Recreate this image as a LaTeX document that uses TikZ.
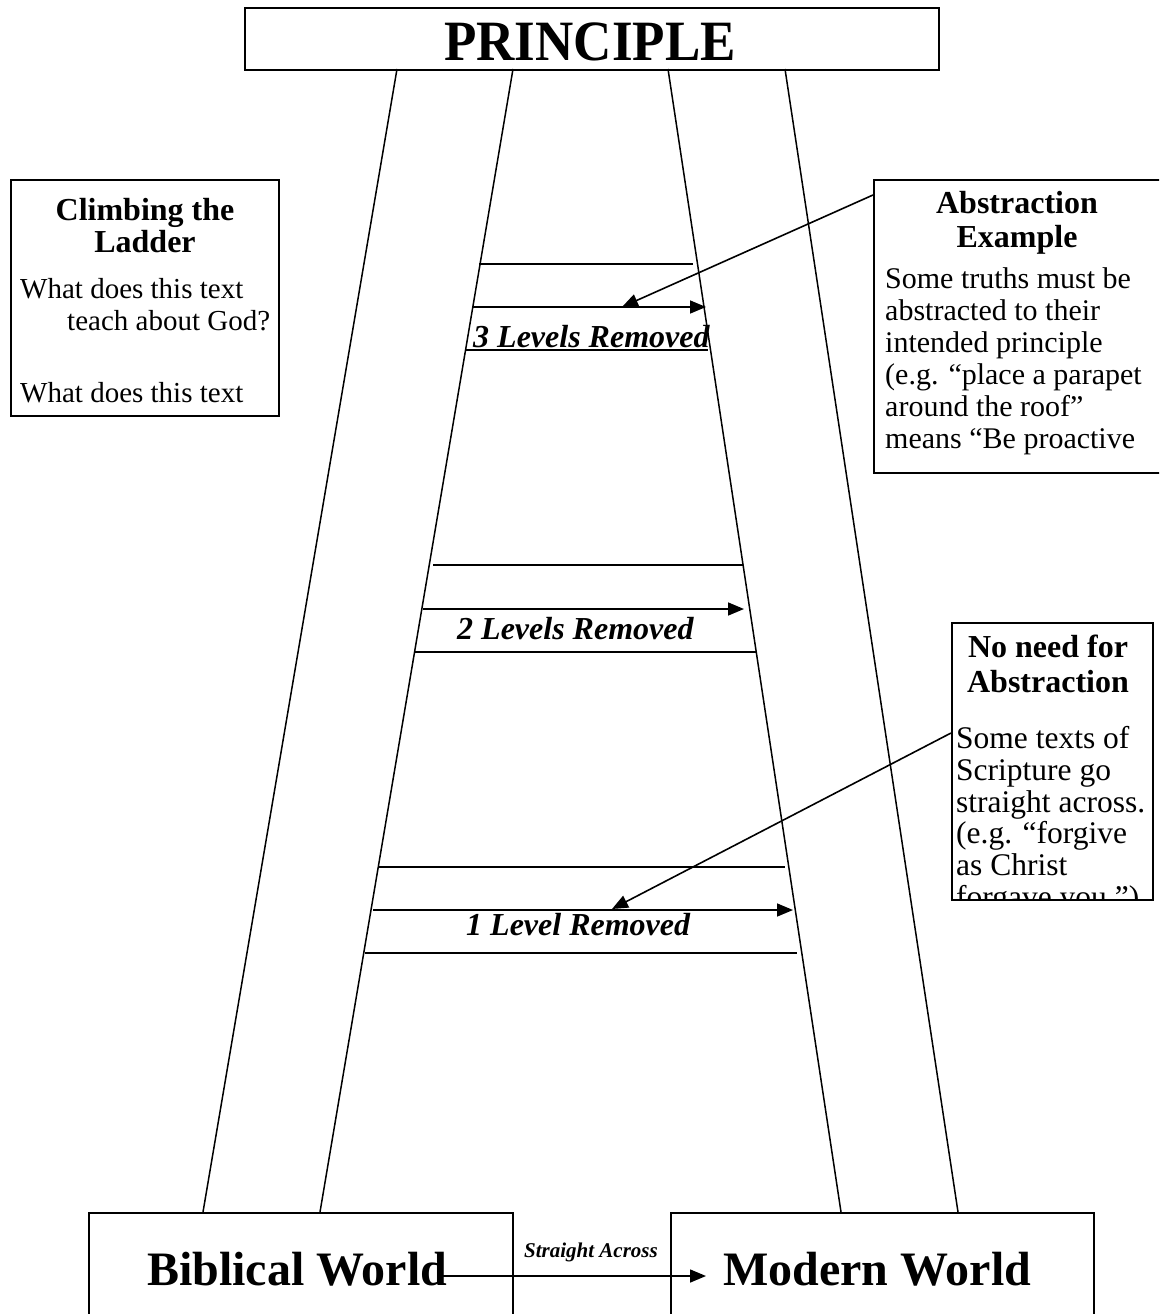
\documentclass[tikz,border=0pt]{standalone}
\usepackage{fontspec}
\setmainfont{Liberation Serif}
\usetikzlibrary{arrows.meta}
\begin{document}
\begin{tikzpicture}[x=1pt,y=-1pt,
  box/.style={draw, line width=1.8pt, inner sep=0pt, anchor=north west},
  ttl/.style={font=\fontsize{32}{34}\selectfont\bfseries, anchor=base, inner sep=0pt},
  body/.style={font=\fontsize{30}{32}\selectfont, anchor=base west, inner sep=0pt},
  bodyl/.style={font=\fontsize{29}{32}\selectfont, anchor=base west, inner sep=0pt},
  bodyn/.style={font=\fontsize{31.5}{32}\selectfont, anchor=base west, inner sep=0pt},
  lvl/.style={font=\fontsize{32}{34}\selectfont\bfseries\itshape, anchor=base west, inner sep=0pt},
  big/.style={font=\fontsize{48}{50}\selectfont\bfseries, anchor=base west, inner sep=0pt},
  rail/.style={line width=1.5pt},
  rung/.style={line width=1.6pt},
  arr/.style={-{Triangle[length=16pt,width=13pt]}, line width=1.6pt}
]
\useasboundingbox (0,0) rectangle (1159,1314);
\clip (0,0) rectangle (1159,1314);

% title box
\node[box, minimum width=694pt, minimum height=62pt] (princ) at (244,7) {};
\node[font=\fontsize{57}{59}\selectfont\bfseries, anchor=base, inner sep=0pt] (ptxt) at (590,60) {\scalebox{0.93}[1]{PRINCIPLE}};

% bottom boxes
\node[box, minimum width=424pt, minimum height=160pt] (bib) at (88,1212) {};
\node[box, minimum width=423pt, minimum height=160pt] (mod) at (670,1212) {};
\node[big] (bibt) at (147,1285) {Biblical World};
\node[big] (modt) at (723,1285) {Modern World};
\node[font=\fontsize{21}{22}\selectfont\bfseries\itshape, anchor=base, inner sep=0pt] (sa) at (591,1257) {Straight Across};
\coordinate (sa-s) at (437,1276);
\coordinate (sa-e) at (706,1276);
\draw[arr] (sa-s) -- (sa-e);

% rails
\coordinate (lo-t) at (397,69);  \coordinate (lo-b) at (203,1212);
\coordinate (li-t) at (513,69);  \coordinate (li-b) at (320,1212);
\coordinate (ri-t) at (668,69);  \coordinate (ri-b) at (841,1212);
\coordinate (ro-t) at (785,69);  \coordinate (ro-b) at (958,1212);
\draw[rail] (lo-t) -- (lo-b);
\draw[rail] (li-t) -- (li-b);
\draw[rail] (ri-t) -- (ri-b);
\draw[rail] (ro-t) -- (ro-b);

% level 3
\coordinate (r3a-l) at (479,264); \coordinate (r3a-r) at (693,264);
\coordinate (r3b-l) at (473,307); \coordinate (r3b-r) at (706,307);
\coordinate (r3c-l) at (465,350); \coordinate (r3c-r) at (708,350);
\draw[rung] (r3a-l) -- (r3a-r);
\draw[arr] (r3b-l) -- (r3b-r);
\node[lvl] (l3) at (473,347) {3 Levels Removed};
\draw[rung] (r3c-l) -- (r3c-r);

% level 2
\coordinate (r2a-l) at (433,565); \coordinate (r2a-r) at (743,565);
\coordinate (r2b-l) at (423,609); \coordinate (r2b-r) at (744,609);
\coordinate (r2c-l) at (415,652); \coordinate (r2c-r) at (757,652);
\draw[rung] (r2a-l) -- (r2a-r);
\draw[arr] (r2b-l) -- (r2b-r);
\node[lvl] (l2) at (457,639) {2 Levels Removed};
\draw[rung] (r2c-l) -- (r2c-r);

% level 1
\coordinate (r1a-l) at (378,867); \coordinate (r1a-r) at (785,867);
\coordinate (r1b-l) at (373,910); \coordinate (r1b-r) at (793,910);
\coordinate (r1c-l) at (365,953); \coordinate (r1c-r) at (797,953);
\draw[rung] (r1a-l) -- (r1a-r);
\draw[arr] (r1b-l) -- (r1b-r);
\node[lvl] (l1) at (466,935) {1 Level Removed};
\draw[rung] (r1c-l) -- (r1c-r);

% left box
\node[box, minimum width=268pt, minimum height=236pt] (climb) at (10,179) {};
\node[ttl] (c1) at (145,220) {Climbing the};
\node[ttl] (c2) at (145,252) {Ladder};
\node[bodyl] (c3) at (20,298) {What does this text};
\node[bodyl] (c4) at (67,330) {teach about God?};
\node[bodyl] (c5) at (20,402) {What does this text};

% abstraction box
\node[box, minimum width=320pt, minimum height=293pt] (abs) at (873,179) {};
\node[ttl] (a1) at (1017,213) {Abstraction};
\node[ttl] (a2) at (1017,247) {Example};
\node[body] (a3) at (885,288) {Some truths must be};
\node[body] (a4) at (885,320) {abstracted to their};
\node[body] (a5) at (885,352) {intended principle};
\node[body] (a6) at (885,384) {(e.g. “place a parapet};
\node[body] (a7) at (885,416) {around the roof”};
\node[body] (a8) at (885,448) {means “Be proactive};
\coordinate (abs-p) at (873,195);
\coordinate (abs-tip) at (622,307);
\draw[arr] (abs-p) -- (abs-tip);

% no need box
\node[box, minimum width=201pt, minimum height=277pt] (nn) at (951,622) {};
\node[ttl] (n1) at (1048,657) {No need for};
\node[ttl] (n2) at (1048,692) {Abstraction};
\node[bodyn] (n3) at (956,748) {Some texts of};
\node[bodyn] (n4) at (956,780) {Scripture go};
\node[bodyn] (n5) at (956,812) {straight across.};
\node[bodyn] (n6) at (956,843) {(e.g. “forgive};
\node[bodyn] (n7) at (956,875) {as Christ};
\begin{scope}
\clip (951,622) rectangle (1152,899);
\node[bodyn] (n8) at (956,907) {forgave you.”)};
\end{scope}
\coordinate (nn-p) at (951,733);
\coordinate (nn-tip) at (612,909);
\draw[arr] (nn-p) -- (nn-tip);
\end{tikzpicture}
\end{document}
